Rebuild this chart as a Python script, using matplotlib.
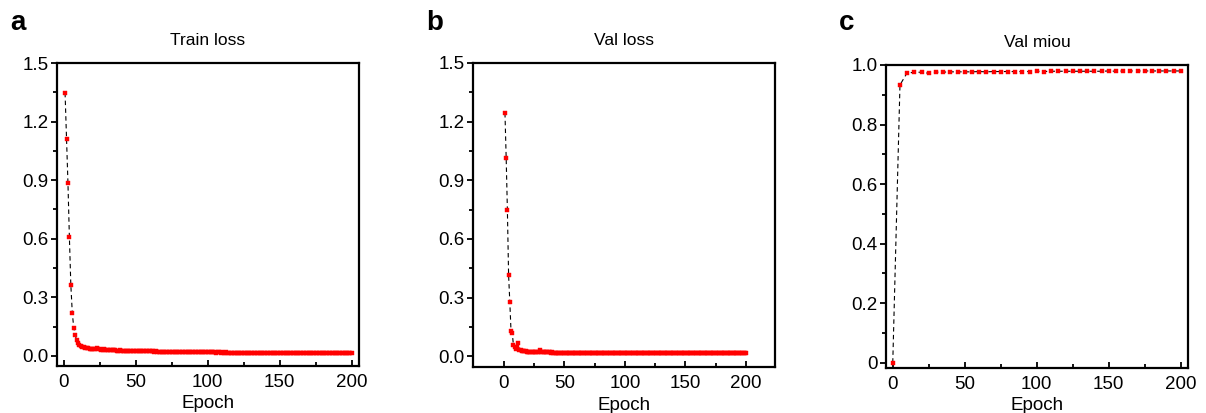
import matplotlib.pyplot as plt
from matplotlib.ticker import MultipleLocator, FuncFormatter

plt.rcParams['font.family'] = ['Liberation Sans', 'DejaVu Sans']

# ---- data ----
train_epochs = list(range(1, 201))
train_loss = [
    1.347, 1.113, 0.885, 0.607, 0.363, 0.222, 0.145, 0.107, 0.082, 0.066,
    0.057, 0.051, 0.047, 0.044, 0.042, 0.040, 0.039, 0.037, 0.036, 0.035,
    0.034, 0.035, 0.041, 0.034, 0.033, 0.032, 0.031, 0.033, 0.031, 0.030,
    0.030, 0.029, 0.029, 0.028, 0.029, 0.028, 0.027, 0.027, 0.028, 0.026,
    0.026, 0.026, 0.025, 0.026, 0.025, 0.025, 0.024, 0.025, 0.024, 0.024,
    0.024, 0.023, 0.024, 0.023, 0.023, 0.024, 0.023, 0.025, 0.026, 0.025,
    0.024, 0.023, 0.022, 0.023, 0.022, 0.022, 0.022, 0.021, 0.022, 0.021,
    0.021, 0.022, 0.021, 0.021, 0.021, 0.020, 0.021, 0.020, 0.020, 0.021,
    0.020, 0.020, 0.020, 0.019, 0.020, 0.019, 0.020, 0.019, 0.019, 0.019,
    0.019, 0.019, 0.018, 0.019, 0.018, 0.019, 0.018, 0.018, 0.018, 0.018,
    0.018, 0.018, 0.018, 0.018, 0.018, 0.017, 0.018, 0.018, 0.017, 0.018,
    0.017, 0.017, 0.018, 0.017, 0.017, 0.017, 0.017, 0.017, 0.017, 0.017,
    0.017, 0.017, 0.017, 0.017, 0.017, 0.017, 0.017, 0.017, 0.016, 0.017,
    0.017, 0.016, 0.017, 0.016, 0.017, 0.016, 0.016, 0.017, 0.016, 0.016,
    0.016, 0.016, 0.016, 0.016, 0.016, 0.016, 0.016, 0.016, 0.016, 0.016,
    0.016, 0.016, 0.016, 0.016, 0.016, 0.016, 0.016, 0.016, 0.016, 0.016,
    0.016, 0.016, 0.016, 0.016, 0.016, 0.016, 0.016, 0.016, 0.016, 0.016,
    0.016, 0.016, 0.016, 0.016, 0.016, 0.016, 0.016, 0.016, 0.016, 0.016,
    0.016, 0.016, 0.016, 0.016, 0.016, 0.016, 0.016, 0.016, 0.016, 0.016,
    0.016, 0.016, 0.016, 0.016, 0.016, 0.016, 0.016, 0.016, 0.016, 0.016,
]

val_epochs = list(range(1, 201))
val_loss = [
    1.244, 1.014, 0.747, 0.414, 0.278, 0.128, 0.120, 0.056, 0.045, 0.038,
    0.048, 0.070, 0.034, 0.031, 0.029, 0.027, 0.026, 0.025, 0.024, 0.024,
    0.023, 0.023, 0.022, 0.023, 0.022, 0.022, 0.021, 0.022, 0.023, 0.030,
    0.022, 0.021, 0.021, 0.020, 0.021, 0.020, 0.020, 0.020, 0.019, 0.020,
    0.019, 0.019, 0.019, 0.019, 0.019, 0.018, 0.019, 0.018, 0.018, 0.018,
    0.018, 0.018, 0.018, 0.018, 0.018, 0.018, 0.017, 0.018, 0.017, 0.018,
    0.017, 0.017, 0.017, 0.017, 0.017, 0.017, 0.017, 0.017, 0.017, 0.017,
    0.017, 0.017, 0.017, 0.017, 0.017, 0.016, 0.017, 0.016, 0.017, 0.016,
    0.016, 0.016, 0.016, 0.016, 0.016, 0.016, 0.016, 0.016, 0.016, 0.016,
    0.016, 0.016, 0.016, 0.016, 0.016, 0.016, 0.016, 0.016, 0.016, 0.016,
    0.016, 0.016, 0.016, 0.016, 0.016, 0.016, 0.016, 0.016, 0.016, 0.016,
    0.016, 0.016, 0.016, 0.016, 0.016, 0.016, 0.016, 0.016, 0.016, 0.016,
    0.016, 0.016, 0.016, 0.016, 0.016, 0.016, 0.016, 0.016, 0.016, 0.016,
    0.016, 0.016, 0.016, 0.016, 0.016, 0.016, 0.016, 0.016, 0.016, 0.016,
    0.016, 0.016, 0.016, 0.016, 0.016, 0.016, 0.016, 0.016, 0.016, 0.016,
    0.016, 0.016, 0.016, 0.016, 0.016, 0.016, 0.016, 0.016, 0.016, 0.016,
    0.016, 0.016, 0.016, 0.016, 0.016, 0.016, 0.016, 0.016, 0.016, 0.016,
    0.016, 0.016, 0.016, 0.016, 0.016, 0.016, 0.016, 0.016, 0.016, 0.016,
    0.016, 0.016, 0.016, 0.016, 0.016, 0.016, 0.016, 0.016, 0.016, 0.016,
    0.016, 0.016, 0.016, 0.016, 0.016, 0.016, 0.016, 0.016, 0.016, 0.016,
]

miou_epochs = list(range(0, 201, 5))
val_miou = [
    0.0, 0.933, 0.974, 0.975, 0.976, 0.972, 0.976, 0.976, 0.977, 0.977,
    0.977, 0.977, 0.978, 0.977, 0.978, 0.978, 0.978, 0.978, 0.978, 0.978,
    0.979, 0.978, 0.979, 0.979, 0.979, 0.979, 0.979, 0.979, 0.979, 0.979,
    0.980, 0.979, 0.980, 0.980, 0.980, 0.980, 0.980, 0.980, 0.980, 0.980,
    0.980,
]

fig = plt.figure(figsize=(12.06, 4.13), dpi=100)
W, H = 1206, 413


def make_axes(l, r, t, b):
    return fig.add_axes([l / W, 1 - b / H, (r - l) / W, (b - t) / H])


def style(ax, xlim, ylim, ymajor, yminor, title, letter, fmt):
    ax.set_xlim(*xlim)
    ax.set_ylim(*ylim)
    ax.xaxis.set_major_locator(MultipleLocator(50))
    ax.xaxis.set_minor_locator(MultipleLocator(25))
    ax.yaxis.set_major_locator(MultipleLocator(ymajor))
    ax.yaxis.set_minor_locator(MultipleLocator(yminor))
    ax.yaxis.set_major_formatter(FuncFormatter(fmt))
    for s in ax.spines.values():
        s.set_linewidth(1.6)
    ax.tick_params(axis='x', which='both', direction='in', width=1.3, labelsize=13.5, pad=6)
    ax.tick_params(axis='x', which='major', length=4)
    ax.tick_params(axis='x', which='minor', length=3)
    ax.tick_params(axis='y', which='both', direction='out', width=1.3, labelsize=13.5, pad=2)
    ax.tick_params(axis='y', which='major', length=4)
    ax.tick_params(axis='y', which='minor', length=3)
    ax.set_xlabel('Epoch', fontsize=13.5, labelpad=3)
    ax.set_title(title, fontsize=12.5, pad=13)
    # panel letter, placed in figure pixels left of the axes
    x0 = ax.get_position().x0 - 47 / W
    fig.text(x0, 1 - 30 / H, letter, fontsize=20, fontweight='bold',
             va='baseline', ha='left')


def draw(ax, x, y):
    ax.plot(x, y, color='black', linestyle=(0, (4, 3)), linewidth=0.8,
            marker='s', markersize=3.1, markerfacecolor='red',
            markeredgecolor='red', markeredgewidth=0.3)


ax1 = make_axes(57, 359, 63, 366)
draw(ax1, train_epochs, train_loss)
style(ax1, (-4.6, 205), (-0.052, 1.5), 0.3, 0.15, 'Train loss', 'a',
      lambda v, p: f'{v:.1f}')

ax2 = make_axes(473, 775, 63, 367)
draw(ax2, val_epochs, val_loss)
style(ax2, (-25.4, 224), (-0.055, 1.5), 0.3, 0.15, 'Val loss', 'b',
      lambda v, p: f'{v:.1f}')

ax3 = make_axes(886, 1188, 65, 368)
draw(ax3, miou_epochs, val_miou)
style(ax3, (-4.7, 205), (-0.018, 1.0), 0.2, 0.1, 'Val miou', 'c',
      lambda v, p: '0' if abs(v) < 1e-9 else f'{v:.1f}')

fig.savefig('out.png', dpi=100)
